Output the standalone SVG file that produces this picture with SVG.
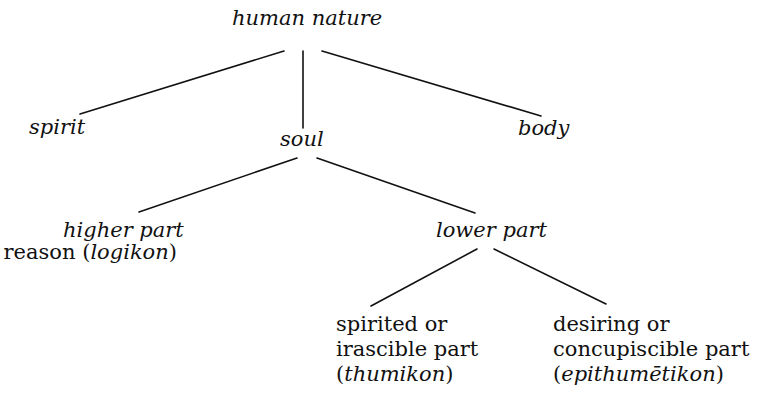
<svg xmlns="http://www.w3.org/2000/svg" width="759" height="394" viewBox="0 0 759 394">
<style>
text{font-family:"DejaVu Serif","Liberation Serif",serif;font-size:21px;fill:#111}
.i{font-style:italic}
#edges line{stroke:#111;stroke-width:1.6;stroke-linecap:round}
</style>
<rect width="759" height="394" fill="#fff"/>
<g id="edges">
<line x1="284" y1="51" x2="80" y2="114"/>
<line x1="303" y1="51" x2="303" y2="128"/>
<line x1="322" y1="51" x2="541" y2="116"/>
<line x1="297" y1="158" x2="139" y2="212"/>
<line x1="317" y1="158" x2="475" y2="213"/>
<line x1="477" y1="249" x2="371" y2="306"/>
<line x1="494" y1="249" x2="606" y2="304"/>
</g>
<g id="human-nature"><text class="i" x="232" y="25">human nature</text></g>
<g id="spirit"><text class="i" x="29" y="134">spirit</text></g>
<g id="soul"><text class="i" x="280" y="146">soul</text></g>
<g id="body"><text class="i" x="518" y="135">body</text></g>
<g id="higher-part"><text class="i" x="63" y="237">higher part</text><text x="177" y="259" text-anchor="end">reason (<tspan class="i">logikon</tspan>)</text></g>
<g id="lower-part"><text class="i" x="436" y="237">lower part</text></g>
<g id="spirited"><text x="336" y="331">spirited or</text><text x="336" y="356">irascible part</text><text x="336" y="381">(<tspan class="i">thumikon</tspan>)</text></g>
<g id="desiring"><text x="553" y="331">desiring or</text><text x="553" y="356">concupiscible part</text><text x="553" y="381">(<tspan class="i">epithumētikon</tspan>)</text></g>
</svg>
